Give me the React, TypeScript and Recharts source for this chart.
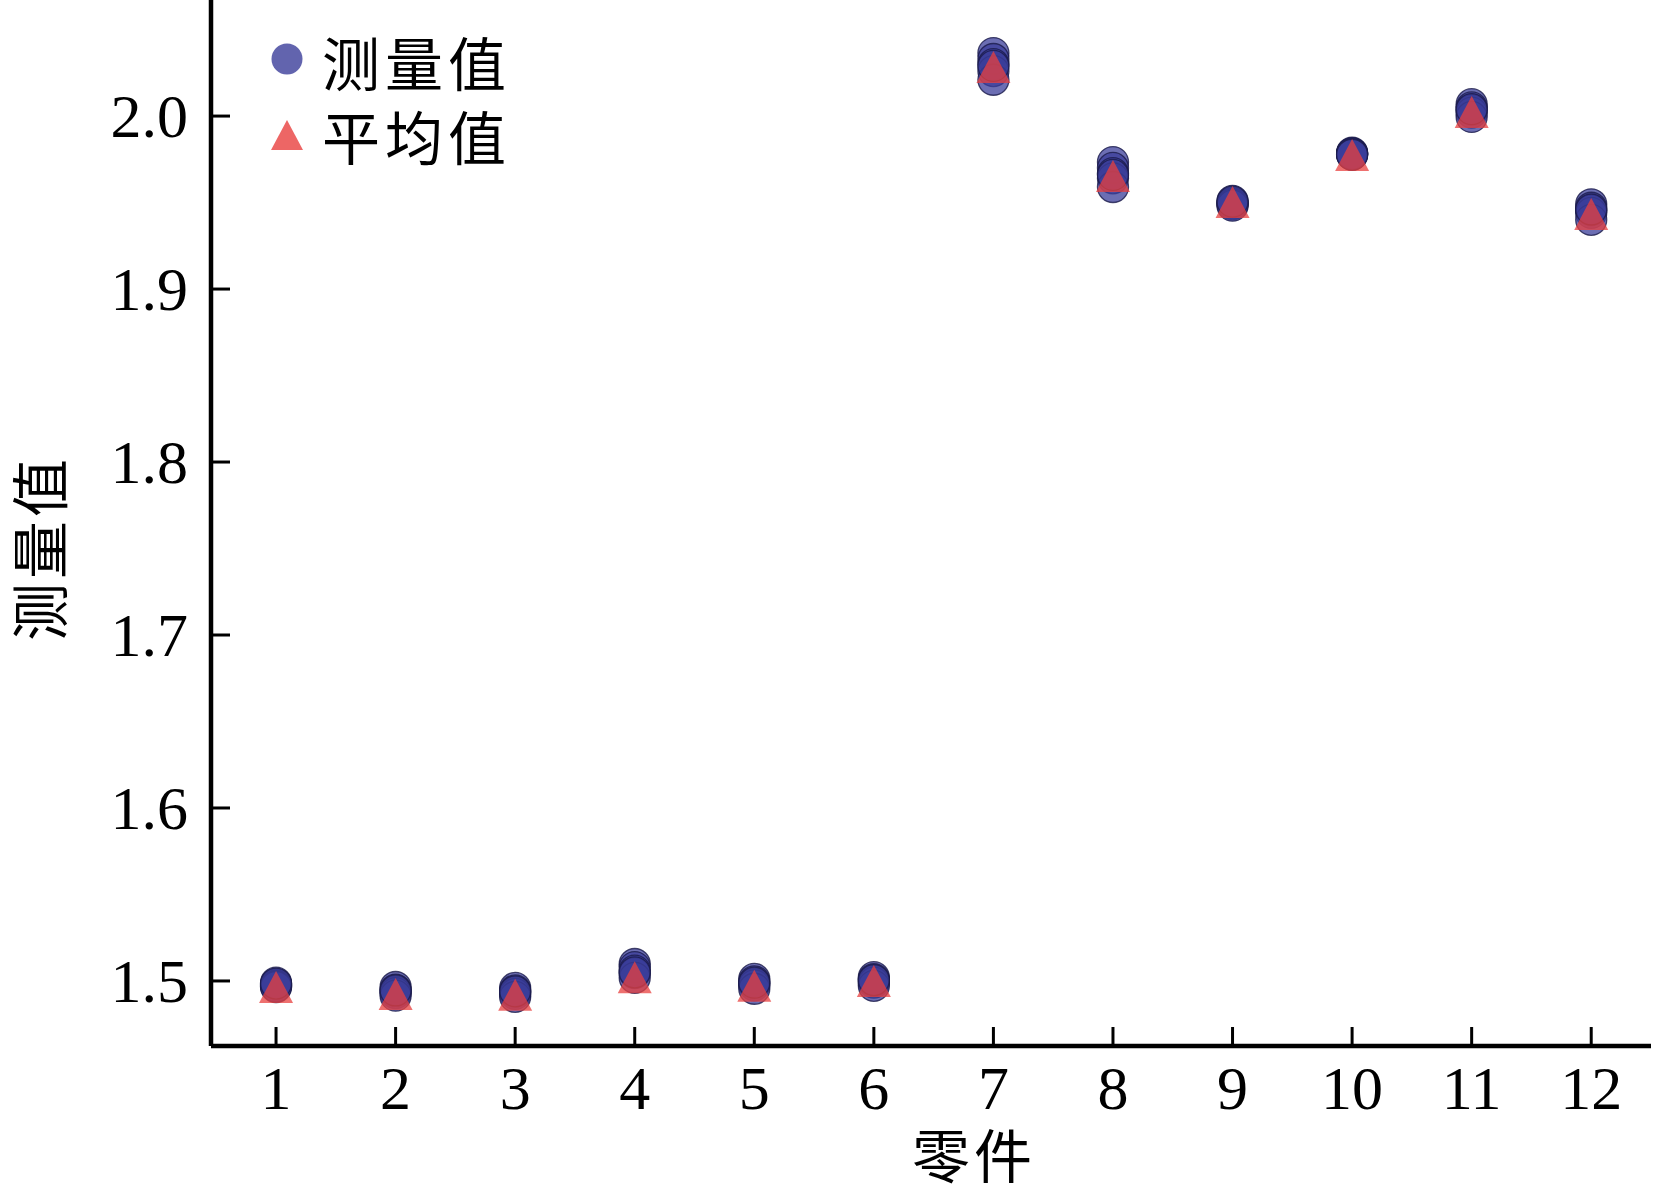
import React from 'react';
import { ScatterChart, Scatter, XAxis, YAxis } from 'recharts';

const parts = [1, 2, 3, 4, 5, 6, 7, 8, 9, 10, 11, 12];
const yTicks = [1.5, 1.6, 1.7, 1.8, 1.9, 2.0];
const yTickLabels = ['1.5', '1.6', '1.7', '1.8', '1.9', '2.0'];

const run1 = [1.499, 1.4965, 1.496, 1.5098, 1.5012, 1.5022, 2.0364, 1.9734, 1.951, 1.9788, 2.0069, 1.949];
const run2 = [1.498, 1.495, 1.4945, 1.508, 1.4998, 1.501, 2.033, 1.97, 1.95, 1.9782, 2.005, 1.947];
const run3 = [1.4975, 1.494, 1.4935, 1.506, 1.4985, 1.5, 2.03, 1.967, 1.9495, 1.9778, 2.0035, 1.9455];
const run4 = [1.497, 1.493, 1.4925, 1.5045, 1.4975, 1.499, 2.026, 1.964, 1.949, 1.9785, 2.002, 1.944];
const run5 = [1.4965, 1.4915, 1.4908, 1.5018, 1.4955, 1.4972, 2.021, 1.959, 1.9482, 1.978, 1.9995, 1.94];
const run6 = [1.4985, 1.4945, 1.494, 1.505, 1.499, 1.5005, 2.029, 1.966, 1.9505, 1.9776, 2.004, 1.946];
const averages = [1.4965, 1.4925, 1.492, 1.5022, 1.4972, 1.5, 2.0283, 1.9653, 1.9503, 1.9775, 2.0023, 1.9434];

const measuredLabel = '测量值';
const averageLabel = '平均值';
const xAxisTitle = '零件';
const yAxisTitle = '测量值';

const runs = [run1, run2, run3, run4, run5, run6];
const measuredData = runs.flatMap((run) => run.map((v, i) => ({ part: parts[i], value: v })));
const averageData = averages.map((v, i) => ({ part: parts[i], value: v }));

const AXIS_X = 211;
const AXIS_Y = 1046;
const NUM_FONT = '"Liberation Serif", "Times New Roman", serif';
const CJK_FONT = '"Noto Sans CJK SC", "Liberation Serif", serif';

const CIRCLE_FILL = '#3b3d9a';
const TRI_FILL = '#e8403f';

const CircleShape = (props: any) => {
  const { cx, cy } = props;
  if (cx == null || cy == null) return null;
  return (
    <circle cx={cx} cy={cy} r={15.5} fill={CIRCLE_FILL} fillOpacity={0.75} stroke="#1a1a4a" strokeOpacity={0.8} strokeWidth={1.3} />
  );
};

const TriShape = (props: any) => {
  const { cx, cy } = props;
  if (cx == null || cy == null) return null;
  const w = 17;
  const h = 16;
  return (
    <path d={`M${cx},${cy - h} L${cx + w},${cy + h} L${cx - w},${cy + h} Z`} fill={TRI_FILL} fillOpacity={0.75} />
  );
};

const XTick = (props: any) => {
  const { payload } = props;
  const x = payload.coordinate;
  return (
    <g>
      <line x1={x} x2={x} y1={AXIS_Y} y2={AXIS_Y - 19} stroke="#000" strokeWidth={3} />
      <text x={x} y={1109} textAnchor="middle" fontFamily={NUM_FONT} fontSize={62} fill="#000">
        {String(payload.value)}
      </text>
    </g>
  );
};

const YTick = (props: any) => {
  const { payload } = props;
  const y = payload.coordinate;
  const idx = yTicks.indexOf(payload.value);
  return (
    <g>
      <line x1={AXIS_X} x2={AXIS_X + 19} y1={y} y2={y} stroke="#000" strokeWidth={3} />
      <text x={188} y={y + 21} textAnchor="end" fontFamily={NUM_FONT} fontSize={62} fill="#000">
        {idx >= 0 ? yTickLabels[idx] : String(payload.value)}
      </text>
    </g>
  );
};

const XLabel = () => (
  <text x={974} y={1178} textAnchor="middle" fontFamily={CJK_FONT} fontSize={58} letterSpacing={4} fill="#000">
    {xAxisTitle}
  </text>
);

const YLabel = () => (
  <text
    x={0}
    y={0}
    transform={`translate(62, 548) rotate(-90)`}
    textAnchor="middle"
    fontFamily={CJK_FONT}
    fontSize={58}
    letterSpacing={4}
    fill="#000"
  >
    {yAxisTitle}
  </text>
);

export default function App() {
  return (
    <div style={{ position: 'absolute', left: 0, top: 0, width: 1654, height: 1190, background: '#fff' }}>
      <ScatterChart width={1654} height={1190} margin={{ top: 0, right: 3, bottom: 84, left: AXIS_X - 60 }}>
        <XAxis
          type="number"
          dataKey="part"
          domain={[0.456, 12.5]}
          ticks={parts}
          allowDataOverflow
          height={60}
          axisLine={{ stroke: '#000', strokeWidth: 4.5 }}
          tickLine={false}
          tick={<XTick />}
          interval={0}
          label={<XLabel />}
        />
        <YAxis
          type="number"
          dataKey="value"
          domain={[1.4624, 2.0671]}
          ticks={yTicks}
          allowDataOverflow
          width={60}
          axisLine={{ stroke: '#000', strokeWidth: 4.5 }}
          tickLine={false}
          tick={<YTick />}
          interval={0}
          label={<YLabel />}
        />
        <Scatter data={measuredData} shape={<CircleShape />} isAnimationActive={false} />
        <Scatter data={averageData} shape={<TriShape />} isAnimationActive={false} />
      </ScatterChart>
      <div style={{ position: 'absolute', left: 260, top: 24, pointerEvents: 'none' }}>
        <div style={{ display: 'flex', alignItems: 'center', height: 74 }}>
          <svg width={56} height={56}>
            <circle cx={27} cy={26} r={15.5} fill={CIRCLE_FILL} fillOpacity={0.8} />
          </svg>
          <span style={{ fontFamily: CJK_FONT, fontSize: 58, lineHeight: 1, letterSpacing: 5, color: '#000', marginLeft: 6 }}>
            {measuredLabel}
          </span>
        </div>
        <div style={{ display: 'flex', alignItems: 'center', height: 74 }}>
          <svg width={56} height={56}>
            <path d="M27,13 L43,43 L11,43 Z" fill={TRI_FILL} fillOpacity={0.8} />
          </svg>
          <span style={{ fontFamily: CJK_FONT, fontSize: 58, lineHeight: 1, letterSpacing: 5, color: '#000', marginLeft: 6 }}>
            {averageLabel}
          </span>
        </div>
      </div>
    </div>
  );
}
